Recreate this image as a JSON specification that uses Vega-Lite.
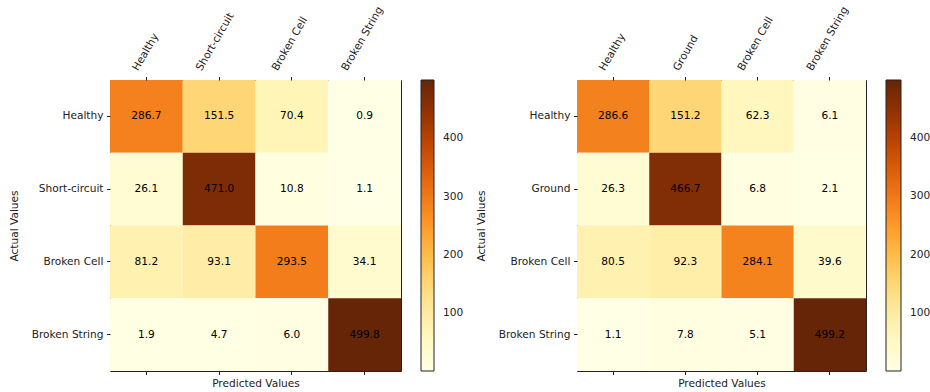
{
  "$schema": "https://vega.github.io/schema/vega-lite/v6.json",
  "padding": {"left": 8, "top": 4, "right": 2, "bottom": 2},
  "spacing": 10,
  "config": {
    "font": "DejaVu Sans",
    "view": {"stroke": "#222", "strokeWidth": 1},
    "axis": {
      "labelFont": "DejaVu Sans", "labelFontSize": 10.6, "labelColor": "#222",
      "titleFont": "DejaVu Sans", "titleFontSize": 10.6, "titleFontWeight": "normal", "titleColor": "#222",
      "tickSize": 3.5, "tickColor": "#222", "domain": false, "grid": false
    },
    "legend": {
      "labelFont": "DejaVu Sans", "labelFontSize": 10.6, "labelColor": "#222"
    }
  },
  "datasets": {
    "cm": [
      {"panel": "A", "actual": "Healthy", "predicted": "Healthy", "value": 286.7},
      {"panel": "A", "actual": "Healthy", "predicted": "Short-circuit", "value": 151.5},
      {"panel": "A", "actual": "Healthy", "predicted": "Broken Cell", "value": 70.4},
      {"panel": "A", "actual": "Healthy", "predicted": "Broken String", "value": 0.9},
      {"panel": "A", "actual": "Short-circuit", "predicted": "Healthy", "value": 26.1},
      {"panel": "A", "actual": "Short-circuit", "predicted": "Short-circuit", "value": 471.0},
      {"panel": "A", "actual": "Short-circuit", "predicted": "Broken Cell", "value": 10.8},
      {"panel": "A", "actual": "Short-circuit", "predicted": "Broken String", "value": 1.1},
      {"panel": "A", "actual": "Broken Cell", "predicted": "Healthy", "value": 81.2},
      {"panel": "A", "actual": "Broken Cell", "predicted": "Short-circuit", "value": 93.1},
      {"panel": "A", "actual": "Broken Cell", "predicted": "Broken Cell", "value": 293.5},
      {"panel": "A", "actual": "Broken Cell", "predicted": "Broken String", "value": 34.1},
      {"panel": "A", "actual": "Broken String", "predicted": "Healthy", "value": 1.9},
      {"panel": "A", "actual": "Broken String", "predicted": "Short-circuit", "value": 4.7},
      {"panel": "A", "actual": "Broken String", "predicted": "Broken Cell", "value": 6.0},
      {"panel": "A", "actual": "Broken String", "predicted": "Broken String", "value": 499.8},
      {"panel": "B", "actual": "Healthy", "predicted": "Healthy", "value": 286.6},
      {"panel": "B", "actual": "Healthy", "predicted": "Ground", "value": 151.2},
      {"panel": "B", "actual": "Healthy", "predicted": "Broken Cell", "value": 62.3},
      {"panel": "B", "actual": "Healthy", "predicted": "Broken String", "value": 6.1},
      {"panel": "B", "actual": "Ground", "predicted": "Healthy", "value": 26.3},
      {"panel": "B", "actual": "Ground", "predicted": "Ground", "value": 466.7},
      {"panel": "B", "actual": "Ground", "predicted": "Broken Cell", "value": 6.8},
      {"panel": "B", "actual": "Ground", "predicted": "Broken String", "value": 2.1},
      {"panel": "B", "actual": "Broken Cell", "predicted": "Healthy", "value": 80.5},
      {"panel": "B", "actual": "Broken Cell", "predicted": "Ground", "value": 92.3},
      {"panel": "B", "actual": "Broken Cell", "predicted": "Broken Cell", "value": 284.1},
      {"panel": "B", "actual": "Broken Cell", "predicted": "Broken String", "value": 39.6},
      {"panel": "B", "actual": "Broken String", "predicted": "Healthy", "value": 1.1},
      {"panel": "B", "actual": "Broken String", "predicted": "Ground", "value": 7.8},
      {"panel": "B", "actual": "Broken String", "predicted": "Broken Cell", "value": 5.1},
      {"panel": "B", "actual": "Broken String", "predicted": "Broken String", "value": 499.2}
    ]
  },
  "hconcat": [
    {
      "width": 291, "height": 291,
      "data": {"name": "cm"},
      "transform": [{"filter": "datum.panel === 'A'"}],
      "layer": [
        {
          "mark": {"type": "rect"},
          "encoding": {
            "x": {"field": "predicted", "type": "nominal", "sort": ["Healthy", "Short-circuit", "Broken Cell", "Broken String"],
                  "scale": {"paddingInner": 0, "paddingOuter": 0},
                  "axis": {"orient": "top", "title": null, "labelAngle": -60, "labelAlign": "left", "labelBaseline": "middle", "labelPadding": 7, "labelOffset": {"expr": "-1.55*length(datum.label)"}}},
            "y": {"field": "actual", "type": "nominal", "sort": ["Healthy", "Short-circuit", "Broken Cell", "Broken String"],
                  "scale": {"paddingInner": 0, "paddingOuter": 0},
                  "axis": {"title": "Actual Values", "labelAngle": 0, "labelPadding": 3.5, "titlePadding": 12}},
            "color": {"field": "value", "type": "quantitative",
                      "scale": {"range": ["#ffffe5", "#fff7bc", "#fee391", "#fec44f", "#fe9929", "#ec7014", "#cc4c02", "#993404", "#662506"], "interpolate": "rgb", "zero": false, "nice": false},
                      "legend": {"title": null, "direction": "vertical", "gradientLength": 291, "gradientThickness": 13, "offset": 20, "values": [100, 200, 300, 400], "gradientStrokeColor": "#222", "gradientStrokeWidth": 1, "labelOffset": 9}}
          }
        },
        {
          "mark": {"type": "text", "fontSize": 10.6, "color": "#000"},
          "encoding": {
            "x": {"field": "predicted", "type": "nominal", "sort": ["Healthy", "Short-circuit", "Broken Cell", "Broken String"],
                  "axis": {"orient": "bottom", "labels": false, "title": "Predicted Values", "titlePadding": 3}},
            "y": {"field": "actual", "type": "nominal", "sort": ["Healthy", "Short-circuit", "Broken Cell", "Broken String"]},
            "text": {"field": "value", "type": "quantitative", "format": ".1f"}
          }
        }
      ],
      "resolve": {"axis": {"x": "independent"}}
    },
    {
      "width": 289, "height": 291,
      "data": {"name": "cm"},
      "transform": [{"filter": "datum.panel === 'B'"}],
      "layer": [
        {
          "mark": {"type": "rect"},
          "encoding": {
            "x": {"field": "predicted", "type": "nominal", "sort": ["Healthy", "Ground", "Broken Cell", "Broken String"],
                  "scale": {"paddingInner": 0, "paddingOuter": 0},
                  "axis": {"orient": "top", "title": null, "labelAngle": -60, "labelAlign": "left", "labelBaseline": "middle", "labelPadding": 7, "labelOffset": {"expr": "-1.55*length(datum.label)"}}},
            "y": {"field": "actual", "type": "nominal", "sort": ["Healthy", "Ground", "Broken Cell", "Broken String"],
                  "scale": {"paddingInner": 0, "paddingOuter": 0},
                  "axis": {"title": "Actual Values", "labelAngle": 0, "labelPadding": 3.5, "titlePadding": 12}},
            "color": {"field": "value", "type": "quantitative",
                      "scale": {"range": ["#ffffe5", "#fff7bc", "#fee391", "#fec44f", "#fe9929", "#ec7014", "#cc4c02", "#993404", "#662506"], "interpolate": "rgb", "zero": false, "nice": false},
                      "legend": {"title": null, "direction": "vertical", "gradientLength": 291, "gradientThickness": 15, "offset": 20, "values": [100, 200, 300, 400], "gradientStrokeColor": "#222", "gradientStrokeWidth": 1, "labelOffset": 9}}
          }
        },
        {
          "mark": {"type": "text", "fontSize": 10.6, "color": "#000"},
          "encoding": {
            "x": {"field": "predicted", "type": "nominal", "sort": ["Healthy", "Ground", "Broken Cell", "Broken String"],
                  "axis": {"orient": "bottom", "labels": false, "title": "Predicted Values", "titlePadding": 3}},
            "y": {"field": "actual", "type": "nominal", "sort": ["Healthy", "Ground", "Broken Cell", "Broken String"]},
            "text": {"field": "value", "type": "quantitative", "format": ".1f"}
          }
        }
      ],
      "resolve": {"axis": {"x": "independent"}}
    }
  ],
  "resolve": {"scale": {"color": "independent"}}
}
